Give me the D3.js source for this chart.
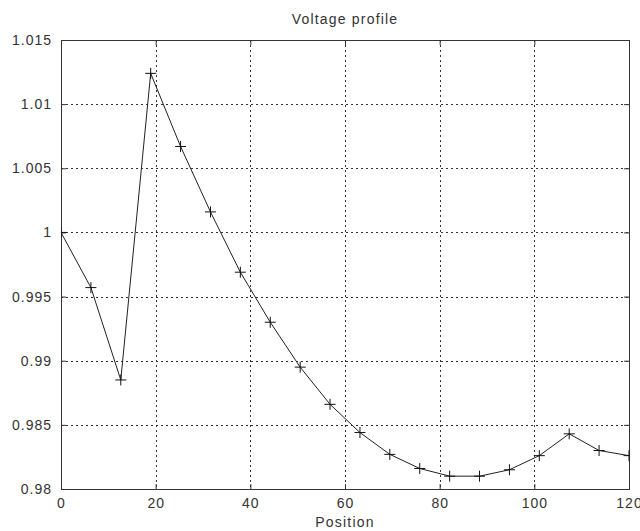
<!DOCTYPE html>
<html>
<head>
<meta charset="utf-8">
<script src="https://cdn.jsdelivr.net/npm/d3@7"></script>
<style>
  body { margin: 0; background: #fff; }
  svg text { font-family: "Liberation Sans", Arial, sans-serif; fill: #333; }
</style>
</head>
<body>
<div id="chart"></div>
<script>
// voltage at each position (20 points from 0 to 120)
var positions = [0, 6.32, 12.63, 18.95, 25.26, 31.58, 37.89, 44.21, 50.53, 56.84,
                 63.16, 69.47, 75.79, 82.11, 88.42, 94.74, 101.05, 107.37, 113.68, 120];
var voltage = [1.0000, 0.9957, 0.9885, 1.0124, 1.0067, 1.0016, 0.9969, 0.9930, 0.9895, 0.9866,
               0.9844, 0.9827, 0.9816, 0.9810, 0.9810, 0.9815, 0.9826, 0.9843, 0.9830, 0.9826];
var xTicks = [0, 20, 40, 60, 80, 100, 120];
var yTicks = [0.98, 0.985, 0.99, 0.995, 1, 1.005, 1.01, 1.015];

var w = 640;
var h = 531;
var margin = {top: 40, right: 11, bottom: 42, left: 61};
var iw = w - margin.left - margin.right;
var ih = h - margin.top - margin.bottom;

var svg = d3.select('#chart')
    .append('svg')
        .attr('width', w)
        .attr('height', h);

var g = svg.append('g')
    .attr('transform', 'translate(' + margin.left + ',' + margin.top + ')');

var x = d3.scaleLinear().domain([0, 120]).range([0, iw]);
var y = d3.scaleLinear().domain([0.98, 1.015]).range([ih, 0]);

// dotted grid, inner ticks only
g.selectAll('.vgrid')
    .data(xTicks.slice(1, -1))
    .enter()
    .append('line')
        .attr('x1', function (d) { return Math.round(x(d)) + 0.5; })
        .attr('x2', function (d) { return Math.round(x(d)) + 0.5; })
        .attr('y1', 0)
        .attr('y2', ih)
        .style('stroke', '#333')
        .style('stroke-dasharray', '2,3');

g.selectAll('.hgrid')
    .data(yTicks.slice(1, -1))
    .enter()
    .append('line')
        .attr('x1', 0)
        .attr('x2', iw)
        .attr('y1', function (d) { return Math.round(y(d)) + 0.5; })
        .attr('y2', function (d) { return Math.round(y(d)) + 0.5; })
        .style('stroke', '#333')
        .style('stroke-dasharray', '2,3');

// axes with inward ticks (box style)
function styleAxis(sel) {
    sel.select('.domain').remove();
    sel.selectAll('line').style('stroke', '#333');
    sel.selectAll('text')
        .style('font-size', '14px')
        .style('letter-spacing', '1px');
}

g.append('g')
    .attr('transform', 'translate(0,' + ih + ')')
    .call(d3.axisBottom(x).tickValues(xTicks).tickSize(-5).tickPadding(9)
        .tickFormat(d3.format('d')))
    .call(styleAxis);

g.append('g')
    .call(d3.axisTop(x).tickValues(xTicks).tickSize(-5).tickFormat(''))
    .call(styleAxis);

g.append('g')
    .call(d3.axisLeft(y).tickValues(yTicks).tickSize(-5).tickPadding(9)
        .tickFormat(function (d) { return +d.toFixed(3) + ''; }))
    .call(styleAxis);

g.append('g')
    .attr('transform', 'translate(' + iw + ',0)')
    .call(d3.axisRight(y).tickValues(yTicks).tickSize(-5).tickFormat(''))
    .call(styleAxis);

// plot box
g.append('rect')
    .attr('x', 0.5)
    .attr('y', 0.5)
    .attr('width', iw)
    .attr('height', ih)
    .style('fill', 'none')
    .style('stroke', '#333');

svg.append('defs').append('clipPath')
    .attr('id', 'clip')
    .append('rect')
        .attr('width', iw + 1)
        .attr('height', ih + 1);

var plot = g.append('g').attr('clip-path', 'url(#clip)');

var line = d3.line()
    .x(function (d, i) { return x(positions[i]); })
    .y(function (d) { return y(d); });

plot.append('path')
    .datum(voltage)
    .attr('d', line)
    .style('fill', 'none')
    .style('stroke', '#222')
    .style('stroke-width', 1);

plot.selectAll('.mark')
    .data(voltage)
    .enter()
    .append('path')
        .attr('transform', function (d, i) { return 'translate(' + x(positions[i]) + ',' + y(d) + ')'; })
        .attr('d', 'M-5.5,0H5.5M0,-5.5V5.5')
        .style('stroke', '#111')
        .style('stroke-width', 1);

// title and axis label
svg.append('text')
    .attr('x', margin.left + iw / 2)
    .attr('y', 24)
    .attr('text-anchor', 'middle')
    .style('font-size', '14px')
    .style('letter-spacing', '1.2px')
    .text('Voltage profile');

svg.append('text')
    .attr('x', margin.left + iw / 2)
    .attr('y', 527)
    .attr('text-anchor', 'middle')
    .style('font-size', '14px')
    .style('letter-spacing', '1.2px')
    .text('Position');
</script>
</body>
</html>
